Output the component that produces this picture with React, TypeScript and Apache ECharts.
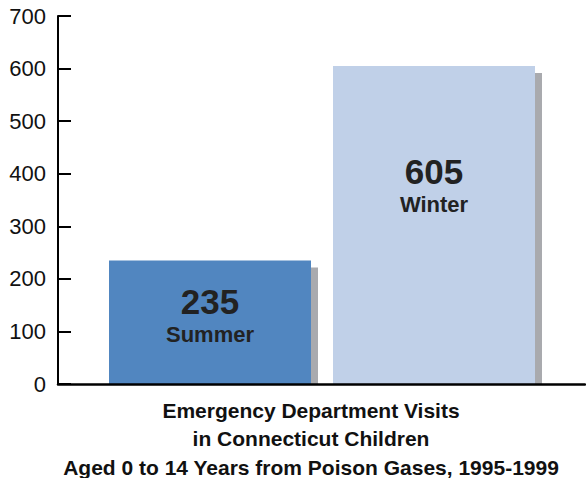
import React, { useEffect, useRef } from "react";
import * as echarts from "echarts";

const seasons = ["Summer", "Winter"];
const visits = [235, 605];
const barColors = ["#5186c0", "#c0d0e8"];
const yTicks = [0, 100, 200, 300, 400, 500, 600, 700];
const titleLines = [
  "Emergency Department Visits",
  "in Connecticut Children",
  "Aged 0 to 14 Years from Poison Gases, 1995-1999",
];

const Y_MAX = 700;
const TOP = 16;
const BOTTOM = 94;
const PLOT_H = 478 - TOP - BOTTOM;
const SHADOW = 7;

export default function App() {
  const ref = useRef<HTMLDivElement>(null);
  useEffect(() => {
    if (!ref.current) return;
    const chart = echarts.init(ref.current, null, { renderer: "svg" });
    const shadowShift = (SHADOW * Y_MAX) / PLOT_H;
    const labelOffsets = [[0, -8], [0, -40]];
    const yAxisBase = {
      type: "value",
      min: 0,
      max: Y_MAX,
      interval: 100,
    };
    chart.setOption({
      animation: false,
      title: {
        text: titleLines.join("\n"),
        left: 306,
        top: 391,
        textAlign: "center",
        textStyle: {
          fontFamily: "Liberation Sans",
          fontWeight: "bold",
          fontSize: 21,
          lineHeight: 28.5,
          color: "#111",
        },
      },
      grid: [
        { left: 58, right: 1, top: TOP, bottom: BOTTOM },
        { left: 98, right: 40, top: TOP, bottom: BOTTOM },
        { left: 98 + SHADOW, right: 40 - SHADOW, top: TOP, bottom: BOTTOM },
      ],
      xAxis: [
        {
          gridIndex: 0,
          type: "category",
          data: [""],
          boundaryGap: true,
          axisLine: { lineStyle: { color: "#000", width: 2.5 } },
          axisTick: { inside: true, length: 11, lineStyle: { color: "#000", width: 2 } },
          axisLabel: { show: false },
          z: 10,
        },
        { gridIndex: 1, type: "category", data: seasons, show: false },
        { gridIndex: 2, type: "category", data: seasons, show: false },
      ],
      yAxis: [
        {
          ...yAxisBase,
          gridIndex: 0,
          axisLine: { show: true, lineStyle: { color: "#000", width: 2 } },
          axisTick: { show: true, inside: true, length: 13, lineStyle: { color: "#000", width: 2 } },
          splitLine: { show: false },
          axisLabel: {
            fontFamily: "Liberation Sans",
            fontSize: 22,
            color: "#111",
            margin: 12,
            formatter: (v: number) => (yTicks.includes(v) ? String(v) : ""),
          },
          z: 10,
        },
        { ...yAxisBase, gridIndex: 1, show: false, splitLine: { show: false } },
        { ...yAxisBase, gridIndex: 2, show: false, splitLine: { show: false } },
      ],
      series: [
        {
          type: "bar",
          xAxisIndex: 2,
          yAxisIndex: 2,
          barWidth: 202,
          data: visits.map((v) => v - shadowShift),
          itemStyle: { color: "#a9aaae" },
          silent: true,
          z: 1,
        },
        {
          type: "bar",
          xAxisIndex: 1,
          yAxisIndex: 1,
          barWidth: 202,
          z: 2,
          data: visits.map((v, i) => ({
            value: v,
            itemStyle: { color: barColors[i] },
            label: { offset: labelOffsets[i] },
          })),
          label: {
            show: true,
            position: "inside",
            formatter: (p: any) => `{n|${p.value}}\n{s|${seasons[p.dataIndex]}}`,
            rich: {
              n: {
                fontFamily: "Liberation Sans",
                fontWeight: "bold",
                fontSize: 35,
                color: "#222",
                lineHeight: 40,
              },
              s: {
                fontFamily: "Liberation Sans",
                fontWeight: "bold",
                fontSize: 22,
                color: "#222",
                lineHeight: 26,
              },
            },
          },
        },
      ],
    });
    return () => chart.dispose();
  }, []);
  return <div ref={ref} style={{ width: 586, height: 478, position: "absolute", left: 0, top: 0 }} />;
}
